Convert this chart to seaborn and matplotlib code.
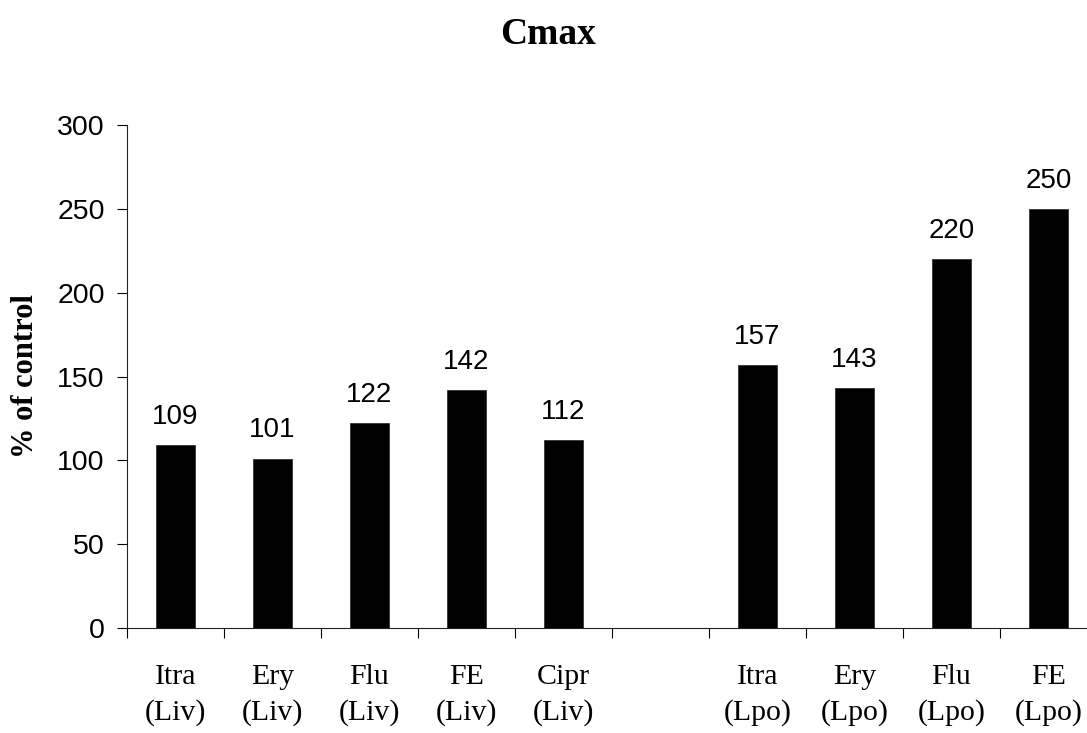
import matplotlib
matplotlib.use("Agg")
import matplotlib.pyplot as plt
import seaborn as sns
import numpy as np

# chart values
categories = ["Itra\n(Liv)", "Ery\n(Liv)", "Flu\n(Liv)", "FE\n(Liv)", "Cipr\n(Liv)",
              " ",
              "Itra\n(Lpo)", "Ery\n(Lpo)", "Flu\n(Lpo)", "FE\n(Lpo)"]
drugs = ["Itra\n(Liv)", "Ery\n(Liv)", "Flu\n(Liv)", "FE\n(Liv)", "Cipr\n(Liv)",
         "Itra\n(Lpo)", "Ery\n(Lpo)", "Flu\n(Lpo)", "FE\n(Lpo)"]
cmax_pct = [109, 101, 122, 142, 112, 157, 143, 220, 250]
y_ticks = [0, 50, 100, 150, 200, 250, 300]

sns.set_style("white")
serif = ["Liberation Serif", "DejaVu Serif"]
sans = ["Liberation Sans", "DejaVu Sans"]
plt.rcParams["font.family"] = sans
plt.rcParams["text.color"] = "black"
plt.rcParams["axes.labelcolor"] = "black"

fig = plt.figure(figsize=(10.87, 7.33), dpi=100)
ax = fig.add_axes([0.1168, 0.1432, 0.8924, 0.6862])

sns.barplot(x=drugs, y=cmax_pct, order=categories, color="black",
            width=0.41, edgecolor="#333333", linewidth=0.6, saturation=1, ax=ax)

for cont in ax.containers:
    ax.bar_label(cont, fmt="%d", padding=11, fontsize=20, family=sans, color="black")

ax.set_xlim(-0.5, len(categories) - 0.5)
ax.set_ylim(0, 300)
ax.set_yticks(y_ticks)
ax.tick_params(axis="y", direction="out", length=7, width=0.8, pad=9,
               labelsize=20.5, colors="black", left=True)
ax.set_xticks(np.arange(len(categories)))
ax.set_xticklabels(categories, family=serif, fontsize=21.5, linespacing=1.45)
ax.set_xticks(np.arange(len(categories) + 1) - 0.5, minor=True)
ax.tick_params(axis="x", which="major", length=0, pad=26, colors="black")
ax.tick_params(axis="x", which="minor", direction="out", length=7, width=0.8,
               bottom=True, colors="black")

for side in ["top", "right"]:
    ax.spines[side].set_visible(False)
for side in ["left", "bottom"]:
    ax.spines[side].set_color("#222222")
    ax.spines[side].set_linewidth(0.8)

ax.set_xlabel("")
ax.set_ylabel("% of control", family=serif, fontsize=22, fontweight="bold", labelpad=12)
fig.text(0.504, 0.94, "Cmax", family=serif, fontsize=27, fontweight="bold",
         ha="center", va="baseline", color="black")

fig.savefig("out.png", dpi=100)
